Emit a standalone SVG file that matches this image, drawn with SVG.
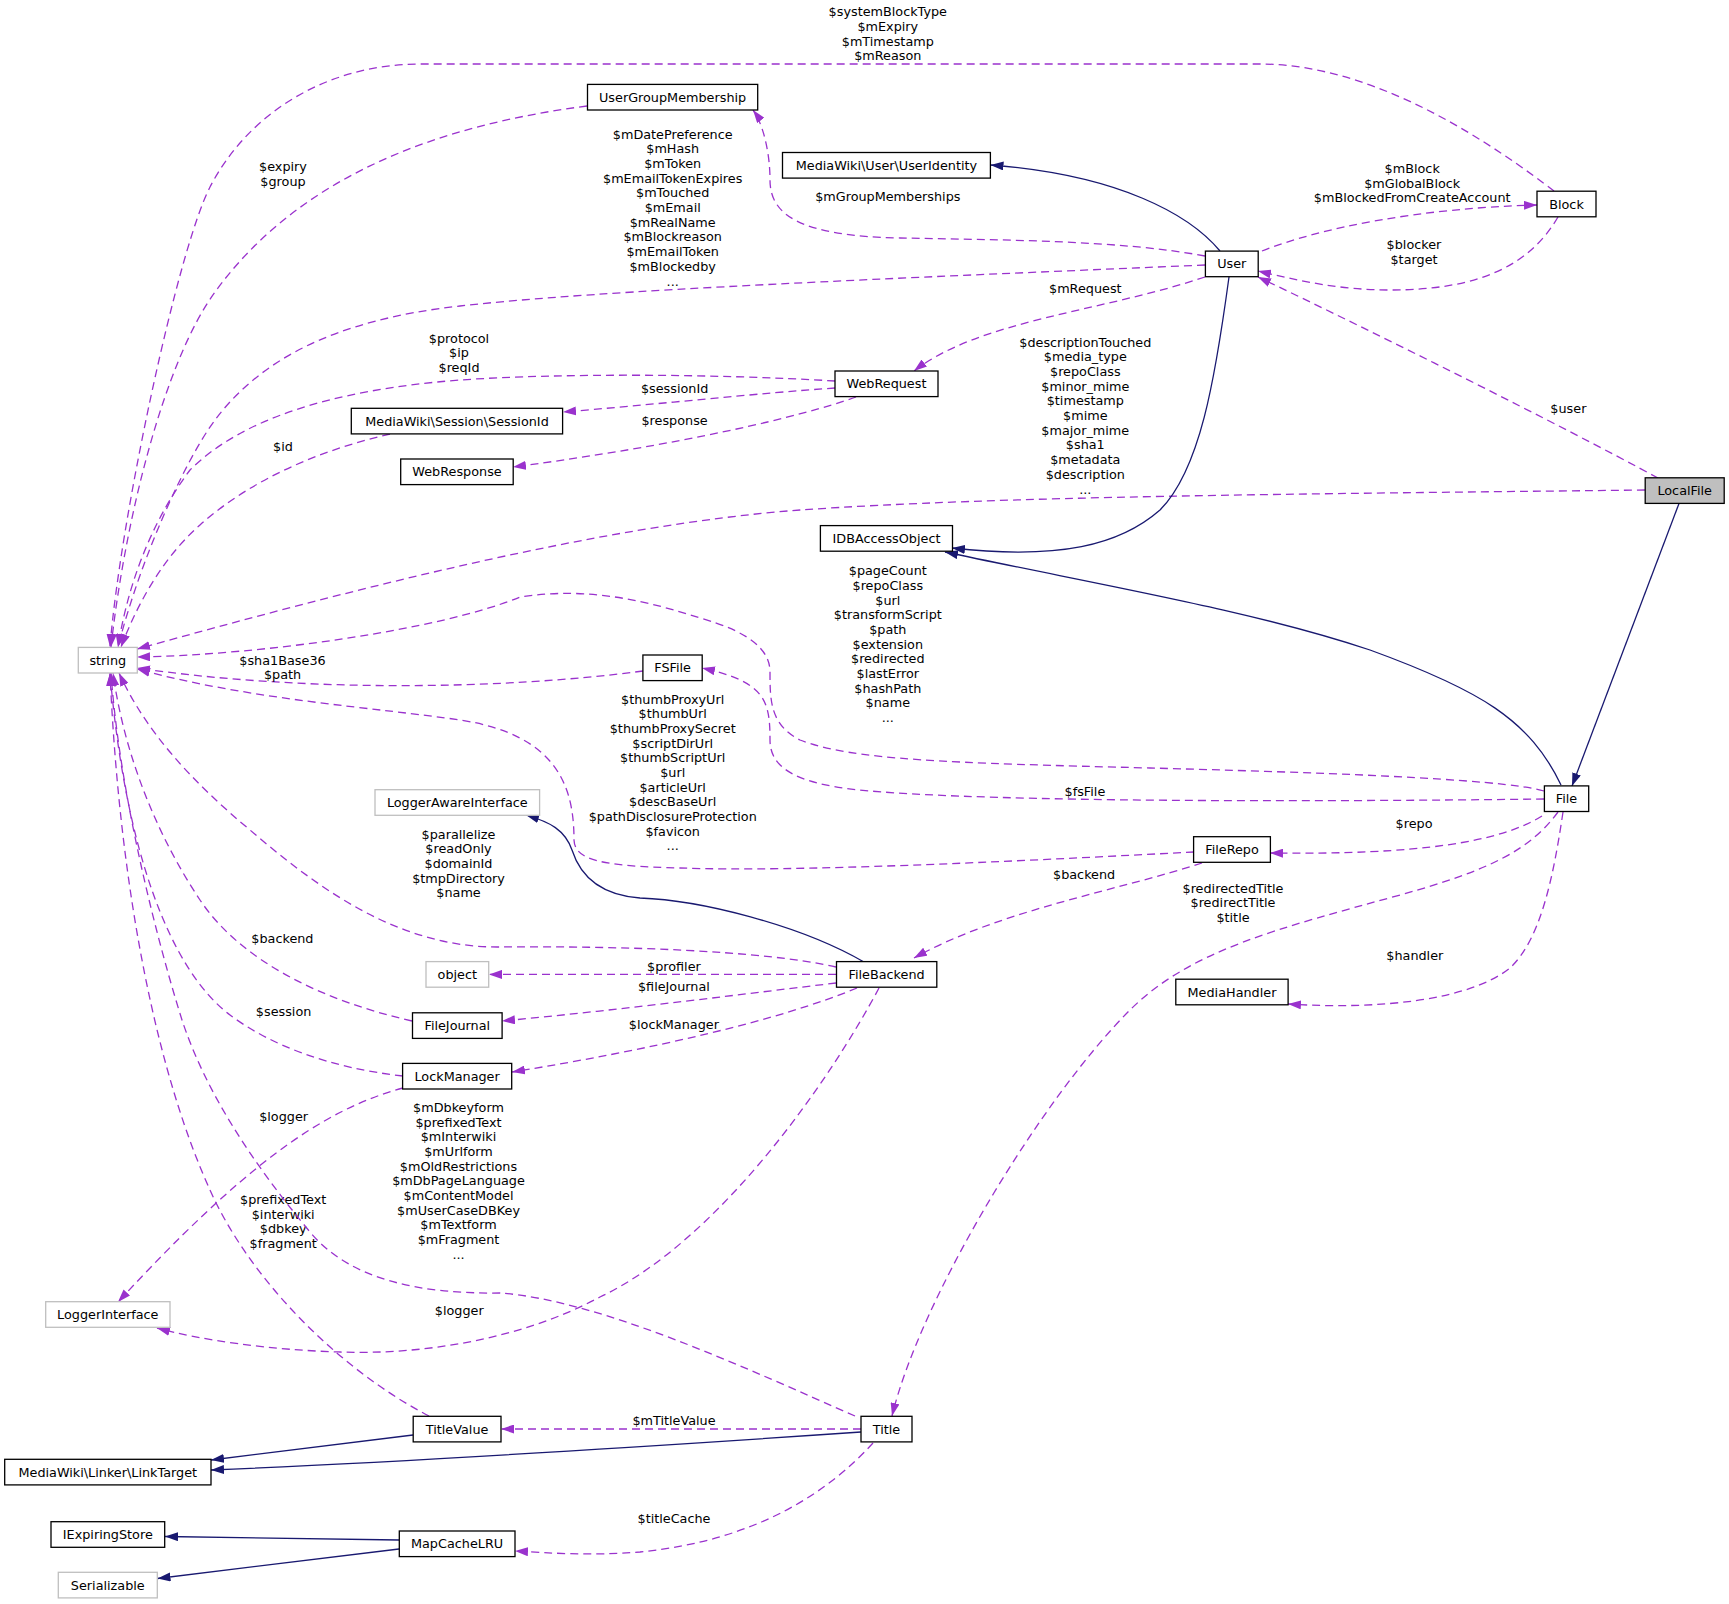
<svg xmlns="http://www.w3.org/2000/svg" width="1729" height="1604" viewBox="0 0 1729 1604">
<style>
text{font-family:"DejaVu Sans","Liberation Sans",sans-serif;font-size:12.8px;fill:#000;text-anchor:middle}
.n rect{fill:#fff;stroke:#000;stroke-width:1.3}
.n.g rect{stroke:#bfbfbf}
.n.r rect{fill:#bfbfbf}
.u{fill:none;stroke:#9a32cd;stroke-width:1.3;stroke-dasharray:8,5;marker-end:url(#ap)}
.i{fill:none;stroke:#191970;stroke-width:1.3;marker-end:url(#ab)}
</style>
<defs>
<marker id="ap" viewBox="0 0 13 9" refX="13" refY="4.5" markerWidth="13" markerHeight="9" orient="auto" markerUnits="userSpaceOnUse"><path d="M0,0L13,4.5L0,9z" fill="#9a32cd"/></marker>
<marker id="ab" viewBox="0 0 13 9" refX="13" refY="4.5" markerWidth="13" markerHeight="9" orient="auto" markerUnits="userSpaceOnUse"><path d="M0,0L13,4.5L0,9z" fill="#191970"/></marker>
</defs>
<rect width="1729" height="1604" fill="#fff"/>
<g id="connectors">
<path class="u" d="M1554,191 C1500,150 1380,64 1260,64 L421,64 C330,64 250,110 210,187 C178,249 120,520 110,647"/>
<text x="887.8" y="16.2"><tspan x="887.8">$systemBlockType</tspan><tspan x="887.8" dy="14.67">$mExpiry</tspan><tspan x="887.8" dy="14.67">$mTimestamp</tspan><tspan x="887.8" dy="14.67">$mReason</tspan></text>
<path class="u" d="M587,106 C440,125 300,175 215,292 C164,362 125,520 111,647"/>
<text x="283" y="171.2"><tspan x="283">$expiry</tspan><tspan x="283" dy="14.67">$group</tspan></text>
<path class="u" d="M1205,256 C1120,240 1000,240 900,238 C800,236 770,215 770,180 C770,150 762,122 753,110"/>
<text x="887.8" y="201.2">$mGroupMemberships</text>
<path class="u" d="M1205,265 C900,278 600,290 460,306 C334,320 260,360 215,420 C185,460 140,560 118,647"/>
<text x="672.7" y="138.8"><tspan x="672.7">$mDatePreference</tspan><tspan x="672.7" dy="14.67">$mHash</tspan><tspan x="672.7" dy="14.67">$mToken</tspan><tspan x="672.7" dy="14.67">$mEmailTokenExpires</tspan><tspan x="672.7" dy="14.67">$mTouched</tspan><tspan x="672.7" dy="14.67">$mEmail</tspan><tspan x="672.7" dy="14.67">$mRealName</tspan><tspan x="672.7" dy="14.67">$mBlockreason</tspan><tspan x="672.7" dy="14.67">$mEmailToken</tspan><tspan x="672.7" dy="14.67">$mBlockedby</tspan><tspan x="672.7" dy="14.67">...</tspan></text>
<path class="u" d="M1262,251 C1320,228 1420,208 1537,205"/>
<text x="1412.2" y="172.9"><tspan x="1412.2">$mBlock</tspan><tspan x="1412.2" dy="14.67">$mGlobalBlock</tspan><tspan x="1412.2" dy="14.67">$mBlockedFromCreateAccount</tspan></text>
<path class="u" d="M1558,217 C1530,265 1480,290 1390,290 C1340,290 1300,281 1258,271"/>
<text x="1414" y="249"><tspan x="1414">$blocker</tspan><tspan x="1414" dy="14.67">$target</tspan></text>
<path class="u" d="M1658,478 C1560,425 1380,335 1258,277"/>
<text x="1568.4" y="413.1">$user</text>
<path class="u" d="M1205,277 C1100,312 980,320 914,371"/>
<text x="1085.3" y="292.8">$mRequest</text>
<path class="u" d="M835,381 C720,374 560,373 460,380 C330,390 240,420 190,470 C160,510 130,570 118,647"/>
<text x="459" y="342.8"><tspan x="459">$protocol</tspan><tspan x="459" dy="14.67">$ip</tspan><tspan x="459" dy="14.67">$reqId</tspan></text>
<path class="u" d="M835,388 C760,393 650,405 563,412"/>
<text x="674.6" y="392.8">$sessionId</text>
<path class="u" d="M856,397 C800,417 680,445 513,467"/>
<text x="674.6" y="425.2">$response</text>
<path class="u" d="M390,434 C320,450 250,480 200,525 C160,560 135,610 121,647"/>
<text x="283" y="451.2">$id</text>
<path class="u" d="M1645,490 C1300,494 1000,496 800,510 C600,525 350,590 137,649"/>
<text x="1085.3" y="346.8"><tspan x="1085.3">$descriptionTouched</tspan><tspan x="1085.3" dy="14.67">$media_type</tspan><tspan x="1085.3" dy="14.67">$repoClass</tspan><tspan x="1085.3" dy="14.67">$minor_mime</tspan><tspan x="1085.3" dy="14.67">$timestamp</tspan><tspan x="1085.3" dy="14.67">$mime</tspan><tspan x="1085.3" dy="14.67">$major_mime</tspan><tspan x="1085.3" dy="14.67">$sha1</tspan><tspan x="1085.3" dy="14.67">$metadata</tspan><tspan x="1085.3" dy="14.67">$description</tspan><tspan x="1085.3" dy="14.67">...</tspan></text>
<path class="u" d="M1544,791 C1500,778 1300,772 1150,768 C950,763 850,760 800,740 C770,725 770,700 770,672 C770,650 750,632 700,618 C650,602 590,586 520,597 C440,630 260,655 137,657"/>
<text x="887.8" y="575.4"><tspan x="887.8">$pageCount</tspan><tspan x="887.8" dy="14.67">$repoClass</tspan><tspan x="887.8" dy="14.67">$url</tspan><tspan x="887.8" dy="14.67">$transformScript</tspan><tspan x="887.8" dy="14.67">$path</tspan><tspan x="887.8" dy="14.67">$extension</tspan><tspan x="887.8" dy="14.67">$redirected</tspan><tspan x="887.8" dy="14.67">$lastError</tspan><tspan x="887.8" dy="14.67">$hashPath</tspan><tspan x="887.8" dy="14.67">$name</tspan><tspan x="887.8" dy="14.67">...</tspan></text>
<path class="u" d="M643,671 C500,690 300,692 137,668"/>
<text x="282.5" y="664.5"><tspan x="282.5">$sha1Base36</tspan><tspan x="282.5" dy="14.67">$path</tspan></text>
<path class="u" d="M1544,799 C1300,802 1000,802 870,791 C800,785 770,770 770,740 C770,700 765,682 702,668"/>
<text x="1084.9" y="795.6">$fsFile</text>
<path class="u" d="M1194,852 C1000,862 800,872 680,868 C600,866 575,860 574,840 C574,790 560,735 460,720 C380,708 250,700 137,669"/>
<text x="672.7" y="703.7"><tspan x="672.7">$thumbProxyUrl</tspan><tspan x="672.7" dy="14.67">$thumbUrl</tspan><tspan x="672.7" dy="14.67">$thumbProxySecret</tspan><tspan x="672.7" dy="14.67">$scriptDirUrl</tspan><tspan x="672.7" dy="14.67">$thumbScriptUrl</tspan><tspan x="672.7" dy="14.67">$url</tspan><tspan x="672.7" dy="14.67">$articleUrl</tspan><tspan x="672.7" dy="14.67">$descBaseUrl</tspan><tspan x="672.7" dy="14.67">$pathDisclosureProtection</tspan><tspan x="672.7" dy="14.67">$favicon</tspan><tspan x="672.7" dy="14.67">...</tspan></text>
<path class="u" d="M1542,816 C1500,842 1420,855 1270,853"/>
<text x="1414" y="827.9">$repo</text>
<path class="u" d="M1202,863 C1120,890 1000,910 914,958"/>
<text x="1084.1" y="878.8">$backend</text>
<path class="u" d="M1558,812 C1530,850 1490,870 1400,895 C1280,928 1190,950 1130,1010 C1040,1100 920,1300 892,1416"/>
<text x="1233" y="892.8"><tspan x="1233">$redirectedTitle</tspan><tspan x="1233" dy="14.67">$redirectTitle</tspan><tspan x="1233" dy="14.67">$title</tspan></text>
<path class="u" d="M1563,812 C1553,880 1540,940 1510,968 C1470,1000 1380,1010 1288,1004"/>
<text x="1414.8" y="959.8">$handler</text>
<path class="u" d="M836,967 C760,950 620,946 500,947 C400,948 320,890 250,830 C190,780 145,730 119,673"/>
<text x="458.5" y="838.8"><tspan x="458.5">$parallelize</tspan><tspan x="458.5" dy="14.67">$readOnly</tspan><tspan x="458.5" dy="14.67">$domainId</tspan><tspan x="458.5" dy="14.67">$tmpDirectory</tspan><tspan x="458.5" dy="14.67">$name</tspan></text>
<path class="u" d="M836,974.4 L489,974.4"/>
<text x="673.9" y="971">$profiler</text>
<path class="u" d="M836,983 C760,992 620,1010 502,1021"/>
<text x="673.9" y="990.6">$fileJournal</text>
<path class="u" d="M857,988 C780,1020 650,1050 512,1072"/>
<text x="673.9" y="1029.2">$lockManager</text>
<path class="u" d="M412,1021 C320,1000 240,960 200,900 C160,840 125,760 113,673"/>
<text x="282.4" y="942.9">$backend</text>
<path class="u" d="M403,1076 C330,1068 270,1045 230,1015 C170,970 125,850 110,673"/>
<text x="283.6" y="1015.9">$session</text>
<path class="u" d="M403,1088 C320,1110 240,1170 118,1302"/>
<text x="283.6" y="1120.9">$logger</text>
<path class="u" d="M879,988 C830,1080 720,1240 600,1297 C520,1340 420,1355 340,1352 C270,1350 200,1340 157,1328"/>
<text x="459.2" y="1315.3">$logger</text>
<path class="u" d="M429,1416 C340,1370 250,1280 210,1190 C160,1080 120,900 110,673"/>
<text x="283.2" y="1204"><tspan x="283.2">$prefixedText</tspan><tspan x="283.2" dy="14.67">$interwiki</tspan><tspan x="283.2" dy="14.67">$dbkey</tspan><tspan x="283.2" dy="14.67">$fragment</tspan></text>
<path class="u" d="M855,1416 C750,1370 600,1300 500,1293 C420,1294 350,1280 310,1232 C250,1160 205,1090 182,1020 C160,950 120,800 111,673"/>
<text x="458.5" y="1112.1"><tspan x="458.5">$mDbkeyform</tspan><tspan x="458.5" dy="14.67">$prefixedText</tspan><tspan x="458.5" dy="14.67">$mInterwiki</tspan><tspan x="458.5" dy="14.67">$mUrlform</tspan><tspan x="458.5" dy="14.67">$mOldRestrictions</tspan><tspan x="458.5" dy="14.67">$mDbPageLanguage</tspan><tspan x="458.5" dy="14.67">$mContentModel</tspan><tspan x="458.5" dy="14.67">$mUserCaseDBKey</tspan><tspan x="458.5" dy="14.67">$mTextform</tspan><tspan x="458.5" dy="14.67">$mFragment</tspan><tspan x="458.5" dy="14.67">...</tspan></text>
<path class="u" d="M861,1429 L501,1429"/>
<text x="674" y="1425.2">$mTitleValue</text>
<path class="u" d="M873,1443 C830,1490 760,1540 640,1552 C590,1556 550,1553 515,1551"/>
<text x="674" y="1522.8">$titleCache</text>
<path class="i" d="M1679,503.5 L1572,786"/>
<path class="i" d="M1561,785 C1530,720 1480,690 1370,650 C1250,610 1100,585 945,552"/>
<path class="i" d="M1229,277 C1215,380 1200,470 1160,510 C1120,545 1060,560 952,548"/>
<path class="i" d="M1220,251 C1190,215 1120,175 990.5,165"/>
<path class="i" d="M864,962 C800,925 700,900 640,898 C600,895 580,875 572,850 C565,830 550,822 526,815"/>
<path class="i" d="M413,1435 L211,1460"/>
<path class="i" d="M861,1432 C700,1443 450,1460 211,1470"/>
<path class="i" d="M399,1540 L165,1536.5"/>
<path class="i" d="M399,1549 L157.5,1578.5"/>
</g>
<g id="node-string" class="n g"><rect x="78.3" y="647.4" width="59" height="25.6"/><text x="107.8" y="664.7">string</text></g>
<g id="node-UserGroupMembership" class="n"><rect x="587.5" y="84.4" width="170.2" height="25.6"/><text x="672.6" y="101.7">UserGroupMembership</text></g>
<g id="node-UserIdentity" class="n"><rect x="782.5" y="152.5" width="207.9" height="25.6"/><text x="886.4" y="169.8">MediaWiki\User\UserIdentity</text></g>
<g id="node-User" class="n"><rect x="1205.4" y="251.1" width="52.8" height="25.6"/><text x="1231.8" y="268.4">User</text></g>
<g id="node-Block" class="n"><rect x="1537" y="191.2" width="59" height="25.6"/><text x="1566.5" y="208.5">Block</text></g>
<g id="node-LocalFile" class="n r"><rect x="1645.2" y="477.8" width="79" height="25.6"/><text x="1684.7" y="495.1">LocalFile</text></g>
<g id="node-WebRequest" class="n"><rect x="835" y="371" width="103" height="25.6"/><text x="886.5" y="388.3">WebRequest</text></g>
<g id="node-SessionId" class="n"><rect x="351.3" y="408.3" width="211.3" height="25.6"/><text x="457" y="425.6">MediaWiki\Session\SessionId</text></g>
<g id="node-WebResponse" class="n"><rect x="400.7" y="459" width="112.5" height="25.6"/><text x="457" y="476.3">WebResponse</text></g>
<g id="node-IDBAccessObject" class="n"><rect x="820.4" y="525.6" width="132.1" height="25.6"/><text x="886.5" y="542.9">IDBAccessObject</text></g>
<g id="node-FSFile" class="n"><rect x="642.9" y="655" width="59.3" height="25.6"/><text x="672.6" y="672.3">FSFile</text></g>
<g id="node-LoggerAwareInterface" class="n g"><rect x="375" y="789.7" width="164.6" height="25.6"/><text x="457.3" y="807">LoggerAwareInterface</text></g>
<g id="node-File" class="n"><rect x="1544.4" y="785.9" width="44.3" height="25.6"/><text x="1566.5" y="803.2">File</text></g>
<g id="node-FileRepo" class="n"><rect x="1193.6" y="836.7" width="76.8" height="25.6"/><text x="1232" y="854">FileRepo</text></g>
<g id="node-FileBackend" class="n"><rect x="836.5" y="961.6" width="100.3" height="25.6"/><text x="886.6" y="978.9">FileBackend</text></g>
<g id="node-object" class="n g"><rect x="426" y="961.6" width="62.7" height="25.6"/><text x="457.3" y="978.9">object</text></g>
<g id="node-MediaHandler" class="n"><rect x="1175.8" y="979.2" width="112.3" height="25.6"/><text x="1232" y="996.5">MediaHandler</text></g>
<g id="node-FileJournal" class="n"><rect x="412.5" y="1012.8" width="89.6" height="25.6"/><text x="457.3" y="1030.1">FileJournal</text></g>
<g id="node-LockManager" class="n"><rect x="402.6" y="1063.4" width="109.1" height="25.6"/><text x="457.1" y="1080.7">LockManager</text></g>
<g id="node-LoggerInterface" class="n g"><rect x="45.7" y="1301.7" width="124.3" height="25.6"/><text x="107.8" y="1319">LoggerInterface</text></g>
<g id="node-TitleValue" class="n"><rect x="413.2" y="1416.3" width="87.8" height="25.6"/><text x="457.1" y="1433.6">TitleValue</text></g>
<g id="node-Title" class="n"><rect x="861" y="1416.3" width="51" height="25.6"/><text x="886.5" y="1433.6">Title</text></g>
<g id="node-LinkTarget" class="n"><rect x="4.7" y="1459.3" width="206.3" height="25.6"/><text x="107.8" y="1476.6">MediaWiki\Linker\LinkTarget</text></g>
<g id="node-IExpiringStore" class="n"><rect x="51" y="1521.7" width="113.7" height="25.6"/><text x="107.8" y="1539">IExpiringStore</text></g>
<g id="node-MapCacheLRU" class="n"><rect x="399.3" y="1531" width="115.7" height="25.6"/><text x="457.1" y="1548.3">MapCacheLRU</text></g>
<g id="node-Serializable" class="n g"><rect x="58.3" y="1572.3" width="99" height="25.6"/><text x="107.8" y="1589.6">Serializable</text></g>
</svg>
